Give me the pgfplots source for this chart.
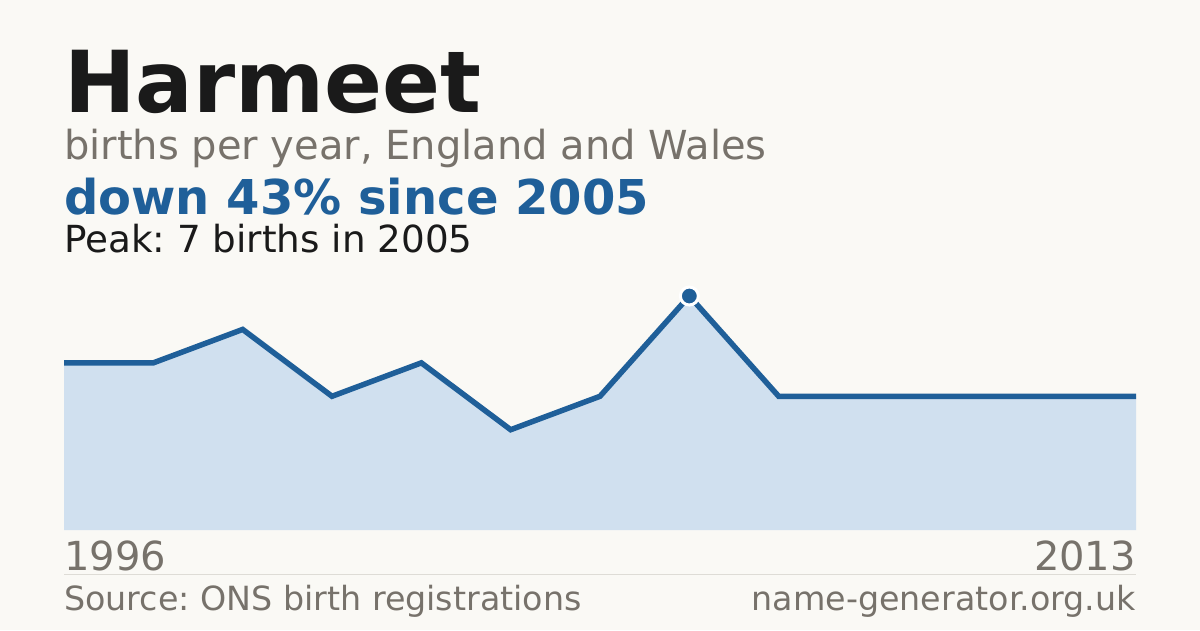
\documentclass[border=0pt]{standalone}
\usepackage{pgfplots}
\pgfplotsset{compat=1.18}
\usepackage{fontspec}
\setmainfont{DejaVu Sans}
\frenchspacing

\definecolor{bg}{HTML}{FAF9F5}
\definecolor{ink}{HTML}{1A1A1A}
\definecolor{muted}{HTML}{77726B}
\definecolor{accent}{HTML}{1F5F99}
\definecolor{areafill}{HTML}{D0E0EF}
\definecolor{rule}{HTML}{DEDCD6}

\begin{document}
\begin{tikzpicture}[x=1pt,y=1pt]
\fill[bg] (0,0) rectangle (1200,630);

% headings
\node[anchor=base west,inner sep=0,text=ink] at (64,517)
  {\fontsize{85.5}{86}\selectfont\bfseries Harmeet};
\node[anchor=base west,inner sep=0,text=muted] at (64,470)
  {\fontsize{40}{40}\selectfont births per year, England and Wales};
\node[anchor=base west,inner sep=0,text=accent] at (64,415)
  {\fontsize{48}{48}\selectfont\bfseries down 43\% since 2005};
\node[anchor=base west,inner sep=0,text=ink] at (64,377)
  {\fontsize{37.3}{37}\selectfont Peak: 7 births in 2005};

\begin{axis}[
    at={(64pt,100pt)}, anchor=origin,
    scale only axis,
    width=1072pt, height=234pt,
    xmin=0, xmax=12, ymin=0, ymax=7,
    axis lines=none,
    clip=false,
  ]
\addplot[fill=areafill, draw=none] coordinates {
  (0,5) (1,5) (2,6) (3,4) (4,5) (5,3) (6,4) (7,7)
  (8,4) (9,4) (10,4) (11,4) (12,4)} \closedcycle;
\addplot[accent, line width=5.5pt, line join=miter] coordinates {
  (0,5) (1,5) (2,6) (3,4) (4,5) (5,3) (6,4) (7,7)
  (8,4) (9,4) (10,4) (11,4) (12,4)};
\addplot[only marks, mark=*, mark size=9pt,
  mark options={fill=accent, draw=white, line width=3pt}] coordinates {(7,7)};
\end{axis}

% footer
\node[anchor=base west,inner sep=0,text=muted] at (64,60)
  {\fontsize{40}{40}\selectfont 1996};
\node[anchor=base east,inner sep=0,text=muted] at (1136,60)
  {\fontsize{40}{40}\selectfont 2013};
\draw[rule, line width=1pt] (64,56) -- (1136,56);
\node[anchor=base west,inner sep=0,text=muted] at (64,20)
  {\fontsize{33.3}{33}\selectfont Source: ONS birth registrations};
\node[anchor=base east,inner sep=0,text=muted] at (1136,20)
  {\fontsize{33.3}{33}\selectfont name-generator.org.uk};
\end{tikzpicture}
\end{document}
